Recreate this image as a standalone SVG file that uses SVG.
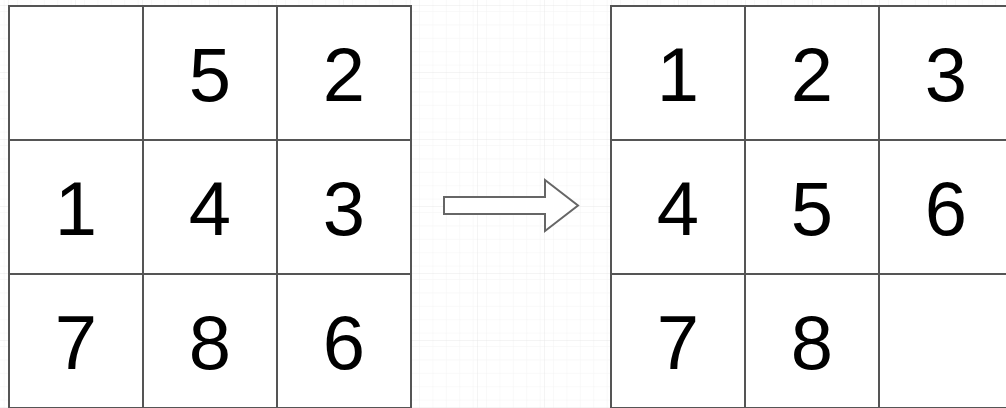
<svg xmlns="http://www.w3.org/2000/svg" width="1006" height="408" viewBox="0 0 1006 408">
  <defs>
    <pattern id="minor" x="9" y="6" width="13.4" height="13.4" patternUnits="userSpaceOnUse">
      <path d="M13.4 0V13.4H0" fill="none" stroke="#f3f3f3" stroke-width="1"/>
    </pattern>
    <pattern id="major" x="9" y="6" width="67" height="67" patternUnits="userSpaceOnUse">
      <rect width="67" height="67" fill="url(#minor)"/>
      <path d="M67 0V67H0" fill="none" stroke="#e8e8e8" stroke-width="1"/>
    </pattern>
  </defs>
  <style>
    .cell { fill: #ffffff; stroke: #555555; stroke-width: 2; }
    .num { font-family: "Liberation Sans", Arial, sans-serif; font-size: 76px; fill: #000000; text-anchor: middle; }
    .arrow { fill: #ffffff; stroke: #666666; stroke-width: 2; stroke-linejoin: miter; }
  </style>
  <rect width="1006" height="408" fill="#ffffff"/>
  <rect width="1006" height="408" fill="url(#major)"/>

  <g id="start-grid">
    <g id="s00"><rect class="cell" x="9" y="6" width="134" height="134"/></g>
    <g id="s01"><rect class="cell" x="143" y="6" width="134" height="134"/><text class="num" x="210" y="101">5</text></g>
    <g id="s02"><rect class="cell" x="277" y="6" width="134" height="134"/><text class="num" x="344" y="101">2</text></g>
    <g id="s10"><rect class="cell" x="9" y="140" width="134" height="134"/><text class="num" x="76" y="235">1</text></g>
    <g id="s11"><rect class="cell" x="143" y="140" width="134" height="134"/><text class="num" x="210" y="235">4</text></g>
    <g id="s12"><rect class="cell" x="277" y="140" width="134" height="134"/><text class="num" x="344" y="235">3</text></g>
    <g id="s20"><rect class="cell" x="9" y="274" width="134" height="134"/><text class="num" x="76" y="369">7</text></g>
    <g id="s21"><rect class="cell" x="143" y="274" width="134" height="134"/><text class="num" x="210" y="369">8</text></g>
    <g id="s22"><rect class="cell" x="277" y="274" width="134" height="134"/><text class="num" x="344" y="369">6</text></g>
  </g>

  <g id="goal-grid">
    <g id="g00"><rect class="cell" x="611" y="6" width="134" height="134"/><text class="num" x="678" y="101">1</text></g>
    <g id="g01"><rect class="cell" x="745" y="6" width="134" height="134"/><text class="num" x="812" y="101">2</text></g>
    <g id="g02"><rect class="cell" x="879" y="6" width="134" height="134"/><text class="num" x="946" y="101">3</text></g>
    <g id="g10"><rect class="cell" x="611" y="140" width="134" height="134"/><text class="num" x="678" y="235">4</text></g>
    <g id="g11"><rect class="cell" x="745" y="140" width="134" height="134"/><text class="num" x="812" y="235">5</text></g>
    <g id="g12"><rect class="cell" x="879" y="140" width="134" height="134"/><text class="num" x="946" y="235">6</text></g>
    <g id="g20"><rect class="cell" x="611" y="274" width="134" height="134"/><text class="num" x="678" y="369">7</text></g>
    <g id="g21"><rect class="cell" x="745" y="274" width="134" height="134"/><text class="num" x="812" y="369">8</text></g>
    <g id="g22"><rect class="cell" x="879" y="274" width="134" height="134"/></g>
  </g>

  <g id="connectors">
    <path class="arrow" d="M444 197H545V180L578 205.5L545 231V214H444Z"/>
  </g>
</svg>
